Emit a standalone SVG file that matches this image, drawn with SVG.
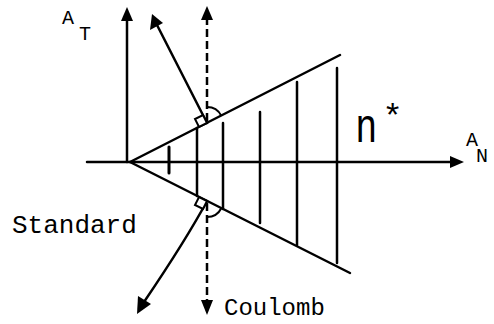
<svg xmlns="http://www.w3.org/2000/svg" width="494" height="324" viewBox="0 0 494 324">
<style>
.ln{stroke:#000;stroke-width:2.5;fill:none;stroke-linecap:round}
.dash{stroke:#000;stroke-width:2.5;fill:none;stroke-dasharray:8 4}
.thin{stroke:#000;stroke-width:2;fill:none}
.hd{fill:#000;stroke:none}
.txt{font-family:"Liberation Mono","Courier New",monospace;fill:#000}
</style>
<rect width="494" height="324" fill="#fff"/>
<g id="axes">
<line class="ln" x1="87" y1="162" x2="452" y2="162"/>
<polygon class="hd" points="464,162 450,156 450,168"/>
<line class="ln" x1="127" y1="162" x2="127" y2="20"/>
<polygon class="hd" points="127,7 121,21 133,21"/>
</g>
<g id="cone">
<line class="ln" x1="130" y1="162" x2="340" y2="55"/>
<line class="ln" x1="130" y1="162" x2="350" y2="273"/>
</g>
<g id="hatching">
<line class="ln" x1="169" y1="147" x2="169" y2="173" style="stroke-width:3"/>
<line class="ln" x1="197" y1="128" x2="197" y2="196"/>
<line class="ln" x1="223" y1="123" x2="223" y2="209"/>
<line class="ln" x1="260" y1="112" x2="260" y2="223"/>
<line class="ln" x1="297" y1="82" x2="297" y2="245"/>
<line class="ln" x1="337" y1="68" x2="337" y2="263"/>
</g>
<g id="connectors">
<g id="standard-upper">
<line class="ln" x1="207" y1="123" x2="157" y2="25"/>
<polygon class="hd" points="152,14 150,30 163,23"/>
<polygon class="thin" points="207,123 199,127 195,119 203,115" style="fill:#fff"/>
</g>
<g id="coulomb-upper">
<line class="dash" x1="207" y1="121" x2="207" y2="18"/>
<polygon class="hd" points="207,6 201,20 213,20"/>
<path class="thin" d="M207,107 A16,16 0 0,1 221.3,115.7"/>
</g>
<g id="standard-lower">
<path class="ln" d="M207,201 Q186,240 144,302"/>
<polygon class="hd" points="137,314 138,296 151,304"/>
<polygon class="thin" points="207,201 199,197 195,205 203,209" style="fill:#fff"/>
</g>
<g id="coulomb-lower">
<line class="dash" x1="207" y1="203" x2="207" y2="302"/>
<polygon class="hd" points="207,315 201,300 213,300"/>
<path class="thin" d="M207,217 A16,16 0 0,0 221.3,208.2"/>
</g>
</g>
<g id="labels">
<text class="txt" x="62" y="24" font-size="20">A</text>
<text class="txt" x="79" y="40" font-size="20">T</text>
<text class="txt" x="466" y="146" font-size="20">A</text>
<text class="txt" x="476" y="162" font-size="20">N</text>
<text class="txt" x="12" y="233" font-size="26">Standard</text>
<text class="txt" x="224" y="315" font-size="24">Coulomb</text>
<text x="356" y="142" font-family="Liberation Sans, sans-serif" font-size="46" transform="translate(356,142) scale(0.8,1.05) translate(-356,-142)">n</text>
<text x="386" y="126" font-family="Liberation Sans, sans-serif" font-size="34">*</text>
</g>
</svg>
